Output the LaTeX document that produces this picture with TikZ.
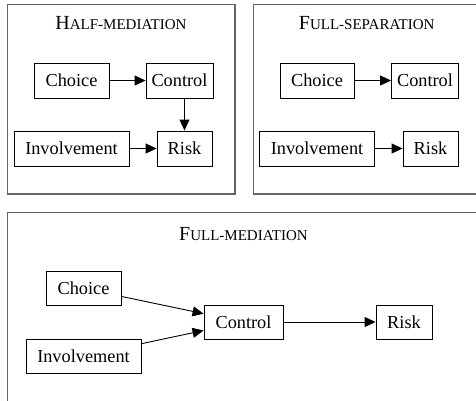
\documentclass[tikz,border=0pt]{standalone}
\usepackage{fontspec}
\setmainfont{Liberation Serif}
\usetikzlibrary{arrows.meta}
\newcommand\fakesc[2]{{\fontsize{20}{22}\selectfont #1}{\fontsize{15}{17}\selectfont #2}}
\tikzset{
  box/.style={draw=black, line width=0.9pt, inner sep=0pt, minimum height=35pt,
    font=\rmfamily\fontsize{18.3}{20}\selectfont, text height=12.4pt, text depth=0pt},
  arr/.style={line width=0.9pt, -{Triangle[length=11pt,width=10pt]}},
  panel/.style={draw=black!60, line width=1.3pt},
  ttl/.style={anchor=base, inner sep=0pt, font=\rmfamily}
}
\begin{document}
\begin{tikzpicture}[x=1pt,y=-1pt]
\useasboundingbox (0,0) rectangle (476,400);
\clip (0,0) rectangle (476,400);
% panels
\draw[panel] (7.5,4.7) rectangle (235,194);
\draw[panel] (253.3,4.7) rectangle (485,194);
\draw[panel] (7.5,212.2) rectangle (485,410);
% titles
\node[ttl] (t1) at (121,29.3) {\fakesc{H}{ALF-MEDIATION}};
\node[ttl] (t2) at (366.7,29.3) {\fakesc{F}{ULL-SEPARATION}};
\node[ttl] (t3) at (243.5,240) {\fakesc{F}{ULL-MEDIATION}};
% panel 1
\node[box, minimum width=75pt] (c1) at (71.5,80.5) {Choice};
\node[box, minimum width=67pt] (k1) at (179.5,80.5) {Control};
\node[box, minimum width=115pt] (i1) at (71.5,148.5) {Involvement};
\node[box, minimum width=55pt] (r1) at (184.5,148.5) {Risk};
\draw[arr] (c1) -- (k1);
\draw[arr] (k1.south -| r1.north) -- (r1.north);
\draw[arr] (i1) -- (r1);
% panel 2
\node[box, minimum width=74pt] (c2) at (317,80.5) {Choice};
\node[box, minimum width=67pt] (k2) at (425,80.5) {Control};
\node[box, minimum width=115pt] (i2) at (317,148.5) {Involvement};
\node[box, minimum width=55pt] (r2) at (430.5,148.5) {Risk};
\draw[arr] (c2) -- (k2);
\draw[arr] (i2) -- (r2);
% panel 3
\node[box, minimum width=75pt, minimum height=34pt] (c3) at (83.5,288.5) {Choice};
\node[box, minimum width=79pt, minimum height=34pt] (k3) at (243.5,322) {Control};
\node[box, minimum width=56pt, minimum height=34pt] (r3) at (404,322) {Risk};
\node[box, minimum width=115pt, minimum height=34pt] (i3) at (83.5,356) {Involvement};
\draw[arr] (c3) -- (k3);
\draw[arr] (i3) -- (k3);
\draw[arr] (k3) -- (r3);
\end{tikzpicture}
\end{document}
